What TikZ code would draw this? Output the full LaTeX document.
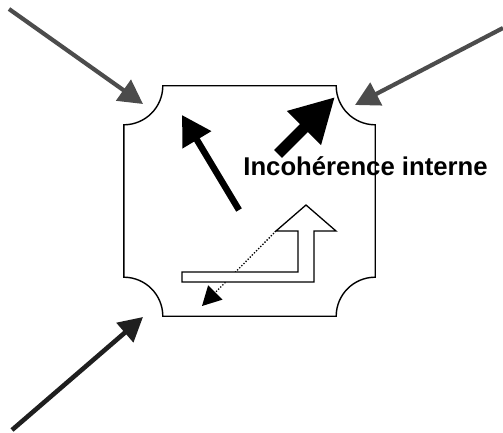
\documentclass[tikz,border=0pt]{standalone}
\usepackage{fontspec}
\setmainfont{Liberation Sans}
\usetikzlibrary{positioning}
\usetikzlibrary{arrows.meta}
\colorlet{feed colour}{black!70}
\colorlet{dark feed colour}{black!88}
\tikzset{
    % Heavy arrows coming in on the corners
    feed/.style={
        draw, color=feed colour, line width=4.2pt,
        -{Triangle[length=24pt, width=25pt]}},
    dark feed/.style={feed, color=dark feed colour, line width=4.6pt},
%
    % The card itself, and the arrows inside it
    outline/.style={draw, line width=1.4pt, line join=miter},
    push/.style={
        draw, line width=6.5pt, -{Triangle[length=29pt, width=32pt]}},
    big push/.style={
        draw, line width=11pt, -{Triangle[length=44pt, width=45pt]}},
    hollow/.style={draw, fill=white, line width=1.3pt, line join=miter},
    hint/.style={
        draw, line width=1.3pt, dash pattern=on 1.3pt off 1.7pt,
        -{Triangle[length=19pt, width=20pt]}},
    caption/.style={
        font=\fontsize{25.7}{30}\selectfont\bfseries, inner sep=0, anchor=base},
}

\begin{document}
\begin{tikzpicture}[x=1pt, y=1pt]
    \useasboundingbox (0,0) rectangle (503,432);
    \def\r{39pt}

    \node (card) [minimum width=251pt, minimum height=230pt, inner sep=0]
        at (249.5,231) {};

    % card with its corners cut in
    \path [outline]
        ([xshift=\r]card.north west) -- ([xshift=-\r]card.north east)
        arc [start angle=180, end angle=270, radius=\r]
        -- ([yshift=\r]card.south east)
        arc [start angle=90, end angle=180, radius=\r]
        -- ([xshift=\r]card.south west)
        arc [start angle=0, end angle=90, radius=\r]
        -- ([yshift=-\r]card.north west)
        arc [start angle=270, end angle=360, radius=\r]
        -- cycle;

    \coordinate (nw from) at (9,423);
    \coordinate (nw to) at (143,328);
    \coordinate (ne from) at (503,404);
    \coordinate (ne to) at (355,327);
    \coordinate (sw from) at (12,2);
    \coordinate (sw to) at (143,115);

    \path [feed] (nw from) -- (nw to);
    \path [feed] (ne from) -- (ne to);
    \path [dark feed] (sw from) -- (sw to);

    % inside the card
    \coordinate (left from) at (239,222);
    \coordinate (left to) at (182,317);
    \coordinate (right from) at (278,278);
    \coordinate (right to) at (335,335);
    \path [push] (left from) -- (left to);
    \path [big push] (right from) -- (right to);

    \node (incoherence) [caption] at (365.5,257) {Incohérence interne};

    \coordinate (bend corner) at (276,201);
    \coordinate (hint to) at (202,126);
    \path [hint] (bend corner) -- (hint to);

    \path [hollow]
        (182,160) -- (298,160) -- (298,201) -- (bend corner)
        -- (306,227) -- (336,201) -- (314,201) -- (314,150)
        -- (182,150) -- cycle;
\end{tikzpicture}
\end{document}
